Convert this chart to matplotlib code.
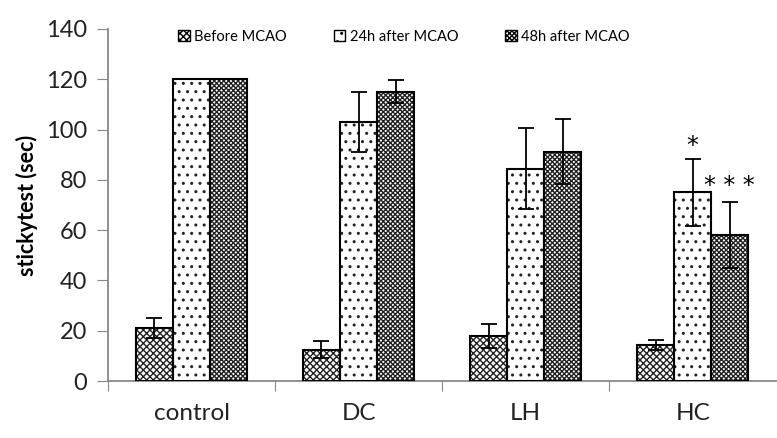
import matplotlib
matplotlib.use("Agg")
import matplotlib.pyplot as plt
from matplotlib.patches import Patch
import numpy as np

categories = ["control", "DC", "LH", "HC"]
series_names = ["Before MCAO", "24h after MCAO", "48h after MCAO"]
before = [21, 12.5, 18, 14.5]
before_err = [4, 3.5, 4.8, 2]
h24 = [120, 103, 84.5, 75]
h24_err = [0, 12, 16, 13.3]
h48 = [120, 115, 91.2, 58]
h48_err = [0, 4.5, 13, 13]
stars = ["", "", "", "*"]
stars48 = ["", "", "", "* * *"]

plt.rcParams['font.family'] = ['Lato', 'DejaVu Sans']
plt.rcParams['hatch.linewidth'] = 1.0

fig = plt.figure(figsize=(7.77, 4.38), dpi=100)
ax = fig.add_axes([0.139, 0.130, 0.860, 0.804])

x = np.arange(len(categories))
w = 0.222
hatches = ['xxxxx', '..', 'xxxxxxx']
vals = [before, h24, h48]
errs = [before_err, h24_err, h48_err]
handles = []
for i, (v, e, h, name) in enumerate(zip(vals, errs, hatches, series_names)):
    xs = x + (i - 1) * w
    ax.bar(xs, v, width=w, facecolor='white', edgecolor='#222222', hatch=h,
           linewidth=0, zorder=2)
    ax.bar(xs, v, width=w, facecolor='none', edgecolor='black', linewidth=1.5, zorder=3)
    handles.append(Patch(facecolor='white', edgecolor='black', hatch=h, linewidth=1.0))
    ev = np.array(e, dtype=float)
    mask = ev > 0
    ax.errorbar(xs[mask], np.array(v)[mask], yerr=ev[mask], fmt='none', ecolor='black',
                elinewidth=1.3, capsize=6, capthick=1.3, zorder=4)

for i in range(len(categories)):
    if stars[i]:
        ax.text(x[i], h24[i] + h24_err[i] + 5, stars[i], ha='center', va='center',
                fontsize=17, color='black', family='DejaVu Sans')
    if stars48[i]:
        ax.text(x[i] + w, h48[i] + h48_err[i] + 6.5, stars48[i], ha='center', va='center',
                fontsize=17, color='black', family='DejaVu Sans')

ax.set_xlim(-0.5, 3.5)
ax.set_ylim(0, 140)
ax.set_yticks(np.arange(0, 141, 20))
ax.set_xticks(np.arange(-0.5, 3.0, 1.0))
ax.set_xticklabels([])
ax.set_xticks(x, minor=True)
ax.set_xticklabels(categories, minor=True, fontsize=17.5, color='#222222')
ax.tick_params(axis='x', which='minor', length=0, pad=16)
ax.tick_params(axis='x', which='major', length=7, color='#888888', direction='out')
ax.tick_params(axis='y', length=8, color='#888888', direction='out', labelsize=17,
               labelcolor='#222222', pad=7)
for s in ['top', 'right']:
    ax.spines[s].set_visible(False)
ax.spines['left'].set_color('#888888')
ax.spines['bottom'].set_color('#888888')
ax.spines['left'].set_linewidth(1.3)
ax.spines['bottom'].set_linewidth(1.3)
ax.set_ylabel("stickytest (sec)", fontsize=15.5, fontweight='bold', labelpad=6)

leg = ax.legend(handles=handles, labels=series_names, loc='upper center',
                bbox_to_anchor=(0.443, 1.035), ncol=3, frameon=False, fontsize=10.5,
                handlelength=0.8, handleheight=0.8, handletextpad=0.3, columnspacing=3.2)

fig.savefig("out.png", dpi=100)
